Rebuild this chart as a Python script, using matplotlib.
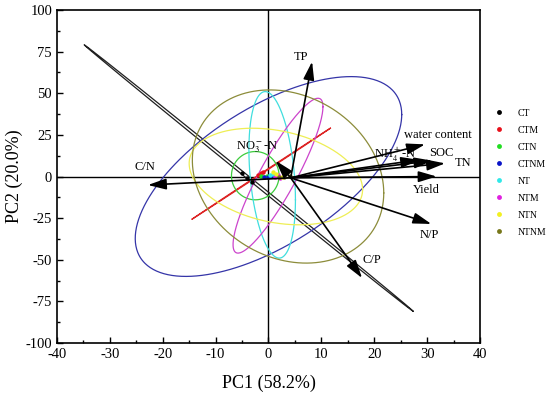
import matplotlib.pyplot as plt
import numpy as np
from matplotlib.lines import Line2D

plt.rcParams['font.family'] = ['Liberation Serif', 'DejaVu Serif']
plt.rcParams['mathtext.fontset'] = 'stix'
plt.rcParams['axes.unicode_minus'] = False

# treatment groups
groups = ['CT', 'CTM', 'CTN', 'CTNM', 'NT', 'NTM', 'NTN', 'NTNM']
point_colors = ['#000000', '#e8101a', '#22dd22', '#0a14c8', '#30e8e8', '#e020e0', '#f2f020', '#77771a']
ellipse_colors = ['#202020', '#dd2525', '#3ccc3c', '#3535a8', '#40dede', '#cc44cc', '#eeee55', '#8c8c3a']

# sample scores (PC1, PC2) per group
pts_x = [[-5.0, -4.0, -3.1], [-2.0, -1.5, -1.0], [-1.5, -0.8, -0.2], [-0.8, 0.0, 0.6],
         [0.3, 0.9, 1.5], [1.2, 1.8, 2.2], [0.8, 1.5, 2.5], [2.0, 3.0, 4.0]]
pts_y = [[2.0, -1.0, -3.3], [1.0, 2.0, 2.5], [0.5, 0.0, 0.5], [-0.3, 0.0, 0.3],
         [1.0, 1.5, 0.5], [-0.5, 1.0, -1.0], [2.5, 1.5, 0.0], [0.0, -0.5, 0.5]]

# confidence ellipses: centre, half extents along x / y, correlation
ell_cx = [-3.75, -1.4, -2.5, 0.0, 0.7, 1.8, 1.4, 3.7]
ell_cy = [-0.9, 1.65, 0.5, 0.0, 1.0, 0.5, 0.0, 0.0]
ell_rx = [31.1, 13.1, 4.5, 25.2, 4.4, 8.5, 16.4, 18.1]
ell_ry = [80.0, 27.35, 14.5, 60.0, 50.0, 46.5, 29.0, 52.0]
ell_r = [-0.9999, 0.99995, 0.0, 0.62, -0.3, 0.89, -0.27, -0.19]

# loadings (arrow tips) and label positions
var_names = ['TP', 'water content', 'NH$_4^+$-N', 'SOC', 'TN', 'Yield', 'N/P', 'C/P', 'C/N', 'NO$_3^-$-N']
tip_x = [8.25, 29.6, 28.5, 31.0, 33.4, 31.8, 30.8, 17.7, -22.8, 1.35]
tip_y = [69.0, 19.3, 10.0, 9.5, 7.9, 0.0, -28.5, -61.0, -5.1, 9.5]
lab_x = [6.1, 32.1, 24.0, 32.7, 36.8, 29.9, 30.5, 19.5, -23.4, -2.1]
lab_y = [72.0, 25.0, 12.9, 13.9, 8.3, -8.0, -35.0, -50.0, 5.5, 17.5]
origin = (4.2, -0.8)

fig = plt.figure(figsize=(5.5, 3.94), dpi=100)
ax = fig.add_axes([0.1036, 0.1294, 0.7691, 0.8452])

t = np.linspace(0, 2 * np.pi, 400)
for i in range(len(groups)):
    s = np.sqrt(1 - ell_r[i] ** 2)
    ex = ell_cx[i] + ell_rx[i] * np.cos(t)
    ey = ell_cy[i] + ell_ry[i] * (ell_r[i] * np.cos(t) + s * np.sin(t))
    ax.plot(ex, ey, color=ellipse_colors[i], lw=0.9, zorder=2)

ax.axhline(0, color='black', lw=1.0, zorder=1)
ax.axvline(0, color='black', lw=1.0, zorder=1)

for i in range(len(groups)):
    ax.scatter(pts_x[i], pts_y[i], s=10, color=point_colors[i], zorder=4, linewidths=0)

for name, tx, ty, lx, ly in zip(var_names, tip_x, tip_y, lab_x, lab_y):
    ax.annotate('', xy=(tx, ty), xytext=origin,
                arrowprops=dict(arrowstyle='-|>,head_length=1.1,head_width=0.33',
                                color='black', lw=1.2, shrinkA=0, shrinkB=0), zorder=5)
    ax.text(lx, ly, name, ha='center', va='center', fontsize=9, zorder=6)

ax.set_xlim(-40, 40)
ax.set_ylim(-100, 100)
ax.set_xticks(np.arange(-40, 41, 10))
ax.set_xticks(np.arange(-35, 40, 10), minor=True)
ax.set_yticks(np.arange(-100, 101, 25))
ax.set_yticks(np.arange(-87.5, 100, 25), minor=True)
ax.tick_params(which='both', direction='in', labelsize=10.5)
ax.tick_params(which='major', length=4, width=1)
ax.tick_params(which='minor', length=2.5, width=1)
ax.tick_params(top=False, right=False)
for sp in ax.spines.values():
    sp.set_linewidth(1.2)
ax.set_xlabel('PC1 (58.2%)', fontsize=13, labelpad=10)
ax.set_ylabel('PC2 (20.0%)', fontsize=13, labelpad=2)

handles = [Line2D([], [], ls='none', marker='o', ms=3.5, color=c, mec='none') for c in point_colors]
fig.legend(handles, groups, loc='upper left', bbox_to_anchor=(0.88, 0.746), frameon=False,
           fontsize=7, labelspacing=0.82, handletextpad=1.4, handlelength=1.2)

fig.savefig('out.png', dpi=100)
